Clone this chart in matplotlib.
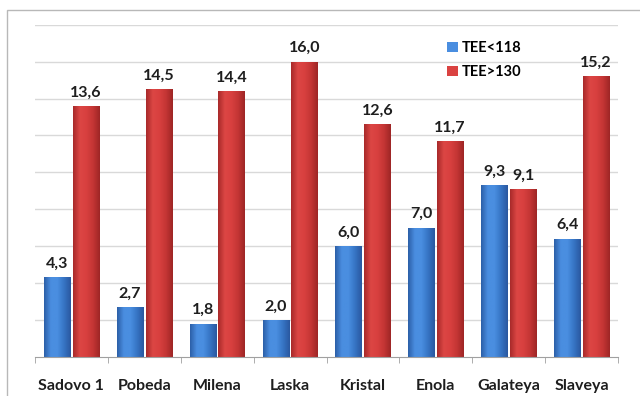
import matplotlib
matplotlib.use("Agg")
import matplotlib.pyplot as plt
import numpy as np
from matplotlib.colors import LinearSegmentedColormap
from matplotlib.patches import Rectangle

sites = ["Sadovo 1", "Pobeda", "Milena", "Laska", "Kristal", "Enola", "Galateya", "Slaveya"]
tee_low = [4.3, 2.7, 1.8, 2.0, 6.0, 7.0, 9.3, 6.4]
tee_high = [13.6, 14.5, 14.4, 16.0, 12.6, 11.7, 9.1, 15.2]
series_names = ["TEE<118", "TEE>130"]

plt.rcParams['font.family'] = ['Lato', 'DejaVu Sans']

blue_cmap = LinearSegmentedColormap.from_list(
    "b", ["#2c5fa8", "#4a8ee0", "#4a8ee0", "#3674c4", "#2a58a0"])
red_cmap = LinearSegmentedColormap.from_list(
    "r", ["#a82a2a", "#dc4644", "#d8403f", "#c43534", "#9e2626"])

fig = plt.figure(figsize=(6.4, 3.96), dpi=100)
fig.patches.append(Rectangle((7 / 640, -0.1), 1.0, 1 - 10 / 396 + 0.1,
                             transform=fig.transFigure, fill=False,
                             edgecolor="#b8b8b8", linewidth=1.0))
ax = fig.add_axes([35 / 640, 1 - 356.7 / 396, 583 / 640, (356.7 - 24.8) / 396])

x = np.arange(len(sites))
w = 0.36
off = 0.197
grad = np.linspace(0, 1, 64).reshape(1, -1)


def gradient_bars(xs, vals, cmap, label):
    bars = ax.bar(xs, vals, w, color=cmap(0.4), label=label, zorder=2, linewidth=0)
    for b in bars:
        im = ax.imshow(grad, cmap=cmap, aspect="auto", zorder=2.5,
                       extent=(b.get_x(), b.get_x() + b.get_width(), 0, b.get_height()))
        im.set_clip_path(b)
    return bars


gradient_bars(x - off, tee_low, blue_cmap, series_names[0])
gradient_bars(x + off, tee_high, red_cmap, series_names[1])

# value labels with decimal comma
for xs, vals in ((x - off, tee_low), (x + off, tee_high)):
    for xi, v in zip(xs, vals):
        ax.text(xi, v + 0.35, f"{v:.1f}".replace(".", ","), ha="center", va="bottom",
                fontsize=11.5, fontweight="bold", color="#1e1e1e")

ax.set_xlim(-0.5, len(sites) - 0.5)
ax.set_ylim(0, 18)
ax.set_yticks(np.arange(2, 19, 2))
ax.yaxis.grid(True, color="#d9d9d9", linewidth=1.0, zorder=0)
ax.tick_params(axis="y", left=False, labelleft=False)
ax.set_axisbelow(True)

ax.set_xticks(x)
ax.set_xticklabels(sites, fontsize=11.5, fontweight="bold", color="#1e1e1e")
ax.tick_params(axis="x", length=0, pad=16)
ax.set_xticks(np.arange(-0.5, len(sites), 1), minor=True)
ax.tick_params(axis="x", which="minor", length=4, color="#a0a0a0")

for s in ["top", "right", "left"]:
    ax.spines[s].set_visible(False)
ax.spines["bottom"].set_color("#a0a0a0")

leg = ax.legend(loc="upper left", bbox_to_anchor=(0.685, 0.99), frameon=False,
                prop={"size": 10.5, "weight": "bold"}, handlelength=0.7,
                handleheight=0.7, handletextpad=0.3, labelspacing=0.65)

fig.savefig("out.png", dpi=100)
